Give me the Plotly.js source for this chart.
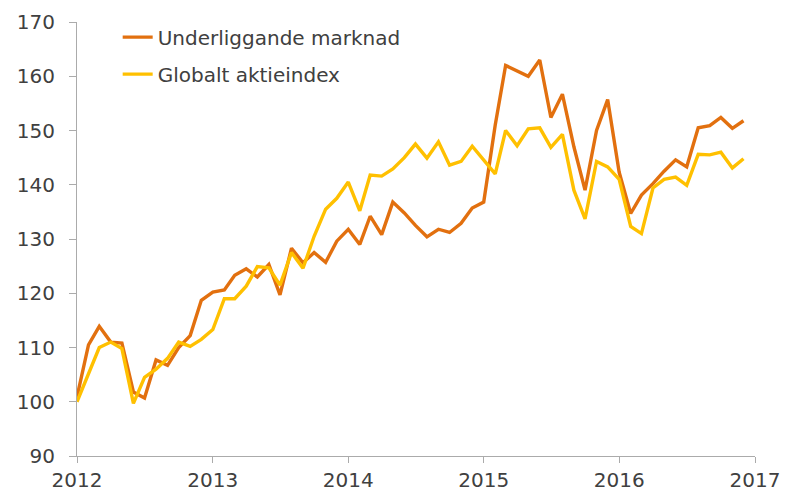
<!DOCTYPE html>
<html>
<head>
<meta charset="utf-8">
<script src="https://cdn.plot.ly/plotly-3.0.1.min.js"></script>
<style>html,body{margin:0;padding:0;background:#fff;}#chart{width:791px;height:494px;}</style>
</head>
<body>
<div id="chart"></div>
<script>
// Monthly observations, Jan 2012 – Dec 2016
const startYear = 2012;
const seriesNames = ["Underliggande marknad", "Globalt aktieindex"];
const underliggande = [
  100.9, 110.5, 113.9, 111.0, 110.8, 101.8, 100.7, 107.7, 106.7, 110.0, 112.2, 118.7,
  120.2, 120.6, 123.3, 124.5, 123.0, 125.3, 119.7, 128.3, 125.6, 127.5, 125.7, 129.6,
  131.8, 129.0, 134.2, 130.8, 136.8, 134.8, 132.5, 130.4, 131.8, 131.2, 132.9, 135.7,
  136.8, 151.0, 162.0, 161.0, 160.0, 163.0, 152.4, 156.7, 147.0, 139.0, 150.0, 155.7,
  142.3, 134.7, 138.1, 140.2, 142.5, 144.6, 143.3, 150.5, 150.9, 152.4, 150.4, 151.8
];
const globalt = [
  100.0, 105.0, 110.0, 111.0, 109.8, 99.7, 104.5, 106.0, 108.0, 111.0, 110.2, 111.5,
  113.3, 119.0, 119.0, 121.3, 124.9, 124.7, 121.5, 127.5, 124.6, 130.5, 135.5, 137.5,
  140.5, 135.2, 141.8, 141.6, 142.9, 145.0, 147.5, 144.9, 147.9, 143.6, 144.3, 147.1,
  144.5, 142.0, 150.0, 147.2, 150.3, 150.5, 146.9, 149.3, 139.0, 133.7, 144.3, 143.3,
  141.0, 132.3, 131.0, 139.4, 141.0, 141.4, 139.9, 145.6, 145.5, 146.0, 143.1, 144.8
];
const yearTicks = ["2012", "2013", "2014", "2015", "2016", "2017"];
const yTicks = [90, 100, 110, 120, 130, 140, 150, 160, 170];

const dates = underliggande.map((_, i) => {
  const y = startYear + Math.floor(i / 12);
  const m = (i % 12) + 1;
  return y + "-" + String(m).padStart(2, "0") + "-01";
});

const FONT = "'DejaVu Sans', sans-serif";
const TXT = "#404040";
const traces = [
  {x: dates, y: underliggande, name: seriesNames[0], type: "scatter", mode: "lines",
   line: {color: "#E2700F", width: 3.4}, legendgroup: "a"},
  {x: dates, y: globalt, name: seriesNames[1], type: "scatter", mode: "lines",
   line: {color: "#FFC000", width: 3.4}, legendgroup: "b"}
];

const layout = {
  width: 791, height: 494,
  margin: {l: 77, r: 36, t: 22, b: 38},
  paper_bgcolor: "#fff", plot_bgcolor: "#fff",
  font: {family: FONT, size: 20, color: TXT},
  showlegend: true,
  legend: {x: 0.06, y: 1.01, xanchor: "left", yanchor: "top", bgcolor: "rgba(0,0,0,0)",
           font: {family: FONT, size: 20, color: TXT}, traceorder: "grouped",
           tracegroupgap: 8},
  xaxis: {
    type: "date",
    range: [yearTicks[0] + "-01-01", yearTicks[yearTicks.length - 1] + "-01-01"],
    tickvals: yearTicks.map(y => y + "-01-01"),
    ticktext: yearTicks,
    showgrid: false, zeroline: false,
    showline: true, linecolor: "#ababab", linewidth: 1,
    ticks: "outside", ticklen: 6, tickcolor: "#ababab",
    tickfont: {family: FONT, size: 20, color: TXT}
  },
  yaxis: {
    range: [90, 170],
    tickvals: yTicks,
    showgrid: false, zeroline: false,
    showline: true, linecolor: "#ababab", linewidth: 1,
    ticks: "outside", ticklen: 7, tickcolor: "#ababab",
    ticklabelstandoff: 10,
    tickfont: {family: FONT, size: 20, color: TXT}
  }
};

Plotly.newPlot("chart", traces, layout, {displayModeBar: false, staticPlot: true});
</script>
</body>
</html>
